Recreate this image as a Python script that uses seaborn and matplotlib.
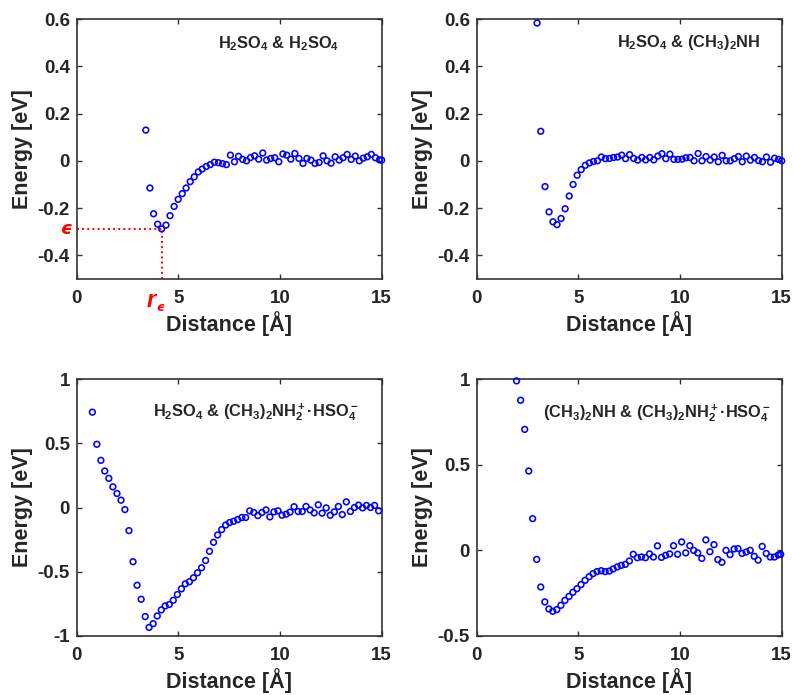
import numpy as np
import pandas as pd
import matplotlib
matplotlib.use("Agg")
import matplotlib.pyplot as plt
import matplotlib.transforms as mtransforms
import seaborn as sns

# Data: distance [A] and energy [eV] for the four pairs

tl_x = [3.40, 3.60, 3.78, 3.98, 4.18, 4.39, 4.59, 4.79, 4.99, 5.19, 5.38, 5.58, 5.78, 5.98, 6.17,
        6.37, 6.57, 6.77, 6.97, 7.17, 7.36, 7.56, 7.76, 7.96, 8.16, 8.35, 8.55, 8.75, 8.95, 9.15,
        9.34, 9.54, 9.74, 9.94, 10.14, 10.33, 10.53, 10.73, 10.93, 11.13, 11.32, 11.52, 11.72, 11.92, 12.12,
        12.31, 12.51, 12.71, 12.91, 13.10, 13.30, 13.50, 13.70, 13.90, 14.09, 14.29, 14.49, 14.69, 14.89, 15.00]
tl_y = [0.130, -0.115, -0.224, -0.268, -0.288, -0.272, -0.232, -0.193, -0.163, -0.139,
        -0.115, -0.088, -0.068, -0.047, -0.035, -0.024, -0.016, -0.006, -0.008, -0.012,
        -0.016, 0.024, -0.004, 0.019, 0.006, 0.000, 0.014, 0.021, 0.007, 0.033,
        0.003, 0.010, 0.013, -0.004, 0.029, 0.024, 0.007, 0.031, 0.010, -0.011,
        0.010, 0.003, -0.011, -0.007, 0.021, 0.000, -0.010, 0.017, 0.003, 0.013,
        0.027, 0.006, 0.020, 0.000, 0.011, 0.017, 0.027, 0.013, 0.004, 0.003]

tr_x = [2.97, 3.15, 3.36, 3.56, 3.75, 3.95, 4.15, 4.35, 4.55, 4.74, 4.94, 5.14, 5.34, 5.54, 5.74,
        5.94, 6.13, 6.33, 6.53, 6.73, 6.93, 7.13, 7.32, 7.52, 7.72, 7.92, 8.12, 8.31, 8.51, 8.71,
        8.91, 9.11, 9.30, 9.50, 9.70, 9.90, 10.10, 10.29, 10.49, 10.69, 10.89, 11.08, 11.28, 11.48, 11.68,
        11.88, 12.07, 12.27, 12.47, 12.67, 12.87, 13.06, 13.26, 13.46, 13.66, 13.86, 14.05, 14.25, 14.45, 14.65,
        14.84, 15.00]
tr_y = [0.583, 0.125, -0.109, -0.216, -0.258, -0.270, -0.244, -0.203, -0.149, -0.100,
        -0.061, -0.037, -0.019, -0.009, -0.003, 0.000, 0.016, 0.009, 0.010, 0.014,
        0.016, 0.024, 0.009, 0.026, 0.010, 0.003, 0.014, 0.004, 0.014, 0.004,
        0.020, 0.030, 0.009, 0.028, 0.006, 0.006, 0.007, 0.013, 0.014, 0.000,
        0.031, 0.000, 0.018, 0.003, 0.016, -0.004, 0.023, 0.000, 0.000, 0.009,
        0.018, -0.004, 0.020, 0.003, 0.014, 0.001, -0.004, 0.016, -0.006, 0.011,
        0.006, 0.000]

bl_x = [0.77, 0.99, 1.19, 1.38, 1.58, 1.78, 1.98, 2.18, 2.37, 2.57, 2.77, 2.97, 3.17, 3.37, 3.56,
        3.76, 3.96, 4.16, 4.35, 4.55, 4.75, 4.95, 5.15, 5.34, 5.54, 5.74, 5.94, 6.14, 6.34, 6.53,
        6.73, 6.93, 7.13, 7.33, 7.52, 7.72, 7.92, 8.12, 8.31, 8.51, 8.71, 8.91, 9.11, 9.31, 9.50,
        9.70, 9.90, 10.10, 10.30, 10.49, 10.69, 10.89, 11.09, 11.28, 11.48, 11.68, 11.88, 12.07, 12.27, 12.47,
        12.67, 12.87, 13.06, 13.26, 13.46, 13.66, 13.86, 14.06, 14.25, 14.45, 14.65, 14.85]
bl_y = [0.742, 0.492, 0.367, 0.284, 0.227, 0.161, 0.109, 0.057, -0.016, -0.180,
        -0.422, -0.605, -0.714, -0.849, -0.933, -0.904, -0.844, -0.797, -0.766, -0.755,
        -0.722, -0.677, -0.633, -0.594, -0.578, -0.547, -0.508, -0.469, -0.412, -0.341,
        -0.271, -0.214, -0.172, -0.136, -0.117, -0.107, -0.094, -0.078, -0.078, -0.026,
        -0.039, -0.063, -0.039, -0.019, -0.073, -0.034, -0.026, -0.060, -0.052, -0.036,
        0.006, -0.031, -0.031, 0.008, -0.019, -0.042, 0.021, -0.044, -0.003, -0.060,
        -0.034, 0.008, -0.055, 0.044, -0.031, 0.000, 0.018, -0.003, 0.016, 0.000,
        0.016, -0.026]

br_x = [1.96, 2.16, 2.36, 2.56, 2.75, 2.95, 3.15, 3.35, 3.55, 3.74, 3.94, 4.14, 4.34, 4.54, 4.73,
        4.93, 5.13, 5.33, 5.53, 5.72, 5.92, 6.12, 6.32, 6.52, 6.71, 6.91, 7.11, 7.31, 7.51, 7.70,
        7.90, 8.10, 8.30, 8.50, 8.69, 8.89, 9.09, 9.29, 9.49, 9.68, 9.88, 10.08, 10.28, 10.48, 10.67,
        10.87, 11.07, 11.27, 11.47, 11.67, 11.86, 12.06, 12.26, 12.46, 12.66, 12.85, 13.05, 13.25, 13.45, 13.65,
        13.84, 14.04, 14.24, 14.44, 14.64, 14.83, 14.95]
br_y = [0.989, 0.876, 0.706, 0.463, 0.185, -0.053, -0.214, -0.301, -0.342, -0.356,
        -0.346, -0.321, -0.292, -0.269, -0.245, -0.224, -0.200, -0.175, -0.154, -0.136,
        -0.124, -0.119, -0.124, -0.121, -0.109, -0.097, -0.088, -0.082, -0.062, -0.023,
        -0.043, -0.039, -0.043, -0.021, -0.039, 0.026, -0.041, -0.029, -0.021, 0.027,
        -0.023, 0.049, -0.015, 0.027, 0.000, -0.015, -0.047, 0.061, -0.008, 0.033,
        -0.054, -0.070, 0.000, -0.025, 0.008, 0.010, -0.018, -0.010, 0.000, -0.035,
        -0.057, 0.023, -0.018, -0.039, -0.039, -0.027, -0.023]

titles = [r'$H_2SO_4$ & $H_2SO_4$',
          r'$H_2SO_4$ & $(CH_3)_2NH$',
          r'$H_2SO_4$ & $(CH_3)_2NH_2^+$·$HSO_4^-$',
          r'$(CH_3)_2NH$ & $(CH_3)_2NH_2^+$·$HSO_4^-$']

sns.set_style("ticks")
plt.rcParams['font.family'] = ['Liberation Sans', 'DejaVu Sans']
plt.rcParams['font.weight'] = 'bold'
plt.rcParams['mathtext.fontset'] = 'custom'
plt.rcParams['mathtext.rm'] = 'Liberation Sans:bold'
plt.rcParams['mathtext.bf'] = 'Liberation Sans:bold'
plt.rcParams['mathtext.it'] = 'Liberation Sans:italic:bold'
plt.rcParams['mathtext.default'] = 'rm'

frame_col = '#333333'
W, H = 794, 695
fig = plt.figure(figsize=(W / 100, H / 100), dpi=100)

# axes boxes in pixels: left, top, right, bottom
boxes = [(76.7, 19, 381.7, 279), (476.7, 19, 781.7, 279),
         (76.7, 379, 381.7, 636), (476.7, 379, 781.7, 636)]
datasets = [(tl_x, tl_y), (tr_x, tr_y), (bl_x, bl_y), (br_x, br_y)]
ylims = [(-0.5, 0.6), (-0.5, 0.6), (-1, 1), (-0.5, 1)]
yticks = [[-0.4, -0.2, 0, 0.2, 0.4, 0.6], [-0.4, -0.2, 0, 0.2, 0.4, 0.6],
          [-1, -0.5, 0, 0.5, 1], [-0.5, 0, 0.5, 1]]
ytlabels = [['-0.4', '-0.2', '0', '0.2', '0.4', '0.6'], ['-0.4', '-0.2', '0', '0.2', '0.4', '0.6'],
            ['-1', '-0.5', '0', '0.5', '1'], ['-0.5', '0', '0.5', '1']]
title_pos = [(0.663, 0.904), (0.696, 0.908), (0.588, 0.873), (0.591, 0.869)]

axes = []
for i, (l, t, r, b) in enumerate(boxes):
    ax = fig.add_axes([l / W, 1 - b / H, (r - l) / W, (b - t) / H])
    df = pd.DataFrame({'Distance': datasets[i][0], 'Energy': datasets[i][1]})
    sns.scatterplot(data=df, x='Distance', y='Energy', ax=ax, marker='o', s=17,
                    facecolor='none', edgecolor='#0000ff', linewidth=1.15, clip_on=False, zorder=3)
    ax.set_xlim(0, 15)
    ax.set_ylim(*ylims[i])
    ax.set_xticks([0, 5, 10, 15])
    ax.set_xticklabels(['0', '5', '10', '15'])
    ax.set_yticks(yticks[i])
    ax.set_yticklabels(ytlabels[i])
    ax.tick_params(direction='in', top=True, right=True, length=3.5, width=1,
                   color=frame_col, labelsize=13.5, pad=5)
    ax.tick_params(axis='x', pad=8)
    for sp in ax.spines.values():
        sp.set_color(frame_col)
        sp.set_linewidth(1.2)
    ax.set_xlabel('Distance [Å]', fontsize=15.5, fontweight='bold', labelpad=3)
    ax.set_ylabel('Energy [eV]', fontsize=15.5, fontweight='bold', labelpad=3)
    ax.text(title_pos[i][0], title_pos[i][1], titles[i], transform=ax.transAxes,
            ha='center', va='center', fontsize=11.8)
    axes.append(ax)

# minimum marker in the first panel
ax = axes[0]
k = int(np.argmin(tl_y))
r_eps, eps = tl_x[k], tl_y[k]
ax.plot([0, r_eps], [eps, eps], color='red', linestyle=':', linewidth=1.4, zorder=2)
ax.plot([r_eps, r_eps], [-0.5, eps], color='red', linestyle=':', linewidth=1.4, zorder=2)
trans_y = mtransforms.blended_transform_factory(ax.transAxes, ax.transData)
ax.text(-0.016, eps, '\u03f5', transform=trans_y, color='red', ha='right', va='center',
        fontsize=13, family=['DejaVu Sans'], fontstyle='italic', fontweight='bold')
trans_x = mtransforms.blended_transform_factory(ax.transData, ax.transAxes)
ax.text(r_eps - 0.5, -0.04, 'r', transform=trans_x, color='red', ha='center',
        va='top', fontsize=17, fontstyle='italic', fontweight='bold')
ax.text(r_eps - 0.06, -0.11, '\u03f5', transform=trans_x, color='red', ha='center',
        va='center', fontsize=9, family=['DejaVu Sans'], fontstyle='italic', fontweight='bold')

fig.savefig("out.png", dpi=100)
